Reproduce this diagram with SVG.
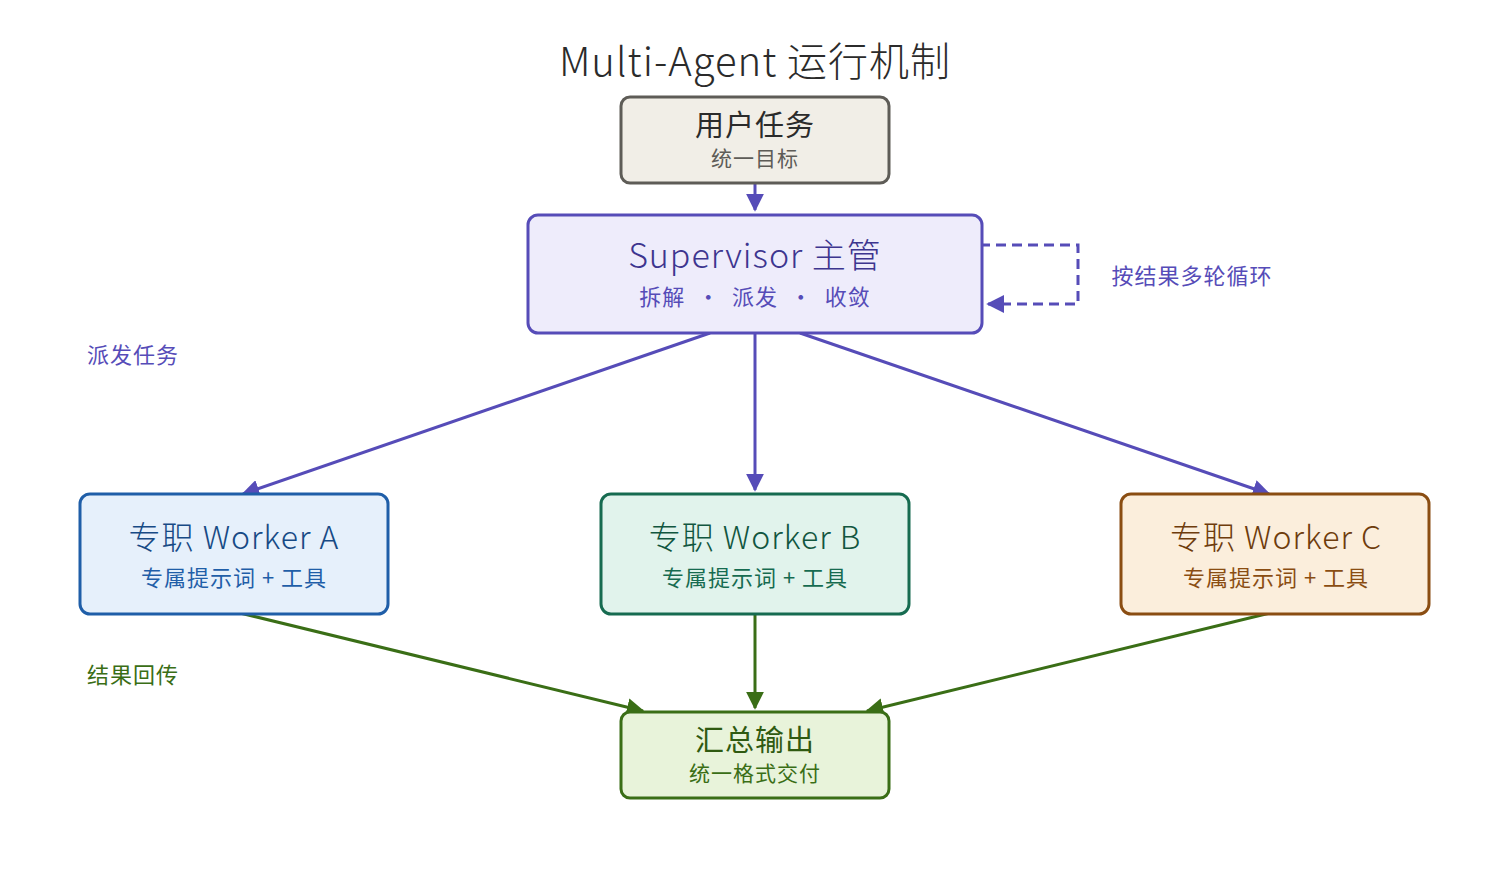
<svg xmlns="http://www.w3.org/2000/svg" width="1510" height="872" viewBox="0 0 1510 872">
<style>
text{font-family:"Noto Sans CJK SC","Noto Sans",sans-serif;text-anchor:middle;letter-spacing:1px}
.box{stroke-width:3}
.p{stroke:#564cb8;stroke-width:3;fill:none}
.g{stroke:#3a6e16;stroke-width:3;fill:none}
</style>
<defs>
<marker id="ap" viewBox="0 0 10 10" refX="9" refY="5" markerWidth="6" markerHeight="6" orient="auto"><path d="M0,0L10,5L0,10z" fill="#564cb8"/></marker>
<marker id="ag" viewBox="0 0 10 10" refX="9" refY="5" markerWidth="6" markerHeight="6" orient="auto"><path d="M0,0L10,5L0,10z" fill="#3a6e16"/></marker>
</defs>
<rect width="1510" height="872" fill="#fff"/>
<text x="755" y="76" font-size="40" fill="#2b2b2b" font-weight="300">Multi-Agent 运行机制</text>
<g id="connectors">
<path class="p" d="M755,184V210" marker-end="url(#ap)"/>
<path class="p" d="M980,245H1078V304H988" stroke-dasharray="10,6" marker-end="url(#ap)"/>
<path class="p" d="M710,333L243,494" marker-end="url(#ap)"/>
<path class="p" d="M755,333V490" marker-end="url(#ap)"/>
<path class="p" d="M800,333L1269,494" marker-end="url(#ap)"/>
<path class="g" d="M240,613L643,711" marker-end="url(#ag)"/>
<path class="g" d="M755,615V708" marker-end="url(#ag)"/>
<path class="g" d="M1270,613L867,711" marker-end="url(#ag)"/>
<text x="1192" y="284" font-size="22" fill="#564cb8">按结果多轮循环</text>
<text x="133" y="363" font-size="22" fill="#564cb8">派发任务</text>
<text x="133" y="683" font-size="22" fill="#3a6e16">结果回传</text>
</g>
<g id="user"><rect class="box" x="621" y="97" width="268" height="86" rx="9" fill="#f1eee7" stroke="#5e5c57"/>
<text x="755" y="136" font-size="29" fill="#2b2b2b">用户任务</text><text x="755" y="166" font-size="21" fill="#5e5c57">统一目标</text></g>
<g id="supervisor"><rect class="box" x="528" y="215" width="454" height="118" rx="10" fill="#eeecfb" stroke="#564cb8"/>
<text x="755" y="268" font-size="34" fill="#3d358f" font-weight="300">Supervisor 主管</text><text x="755" y="305" font-size="22" fill="#564cb8" xml:space="preserve">拆解  ·  派发  ·  收敛</text></g>
<g id="workerA"><rect class="box" x="80" y="494" width="308" height="120" rx="10" fill="#e6f0fb" stroke="#1f5ea8"/>
<text x="234" y="549" font-size="32" fill="#174a85" font-weight="300" xml:space="preserve">专职 Worker A</text><text x="234" y="586" font-size="22" fill="#1f5ea8" xml:space="preserve">专属提示词 + 工具</text></g>
<g id="workerB"><rect class="box" x="601" y="494" width="308" height="120" rx="10" fill="#e1f3ec" stroke="#166b50"/>
<text x="755" y="549" font-size="32" fill="#11563f" font-weight="300" xml:space="preserve">专职 Worker B</text><text x="755" y="586" font-size="22" fill="#166b50" xml:space="preserve">专属提示词 + 工具</text></g>
<g id="workerC"><rect class="box" x="1121" y="494" width="308" height="120" rx="10" fill="#fbeedc" stroke="#8a4d12"/>
<text x="1276" y="549" font-size="32" fill="#6e3c0c" font-weight="300" xml:space="preserve">专职 Worker C</text><text x="1276" y="586" font-size="22" fill="#8a4d12" xml:space="preserve">专属提示词 + 工具</text></g>
<g id="output"><rect class="box" x="621" y="712" width="268" height="86" rx="9" fill="#e8f3da" stroke="#3a6e16"/>
<text x="755" y="751" font-size="29" fill="#2f5a11">汇总输出</text><text x="755" y="781" font-size="21" fill="#3a6e16">统一格式交付</text></g>
</svg>
